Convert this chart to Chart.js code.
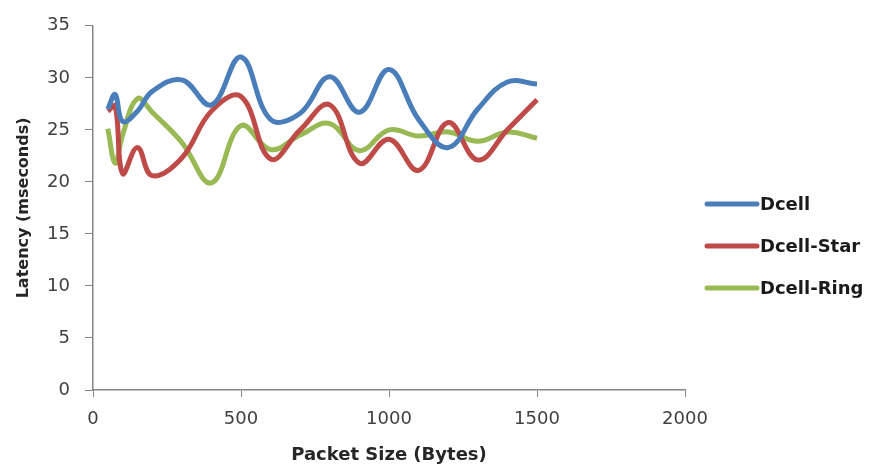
<!DOCTYPE html>
<html>
<head>
<meta charset="utf-8">
<script src="https://cdn.jsdelivr.net/npm/chart.js@4/dist/chart.umd.min.js"></script>
<style>
  html, body { margin: 0; padding: 0; background: #fff; }
  #wrap { width: 870px; height: 469px; }
</style>
</head>
<body>
<div id="wrap"><canvas id="c" width="870" height="469"></canvas></div>
<script>
// Packet sizes (bytes) at which latency was measured
const packetSizes = [50, 75, 100, 150, 200, 300, 400, 500, 600, 700, 800, 900, 1000, 1100, 1200, 1300, 1400, 1500];

// Latency in milliseconds for each topology
const dcell     = [27.0, 28.4, 25.8, 26.8, 28.7, 29.8, 27.4, 32.0, 26.0, 26.6, 30.1, 26.7, 30.8, 26.0, 23.3, 27.0, 29.6, 29.4];
const dcellStar = [26.8, 27.3, 20.8, 23.3, 20.6, 22.3, 26.8, 28.2, 22.2, 25.0, 27.4, 21.8, 24.1, 21.1, 25.7, 22.1, 25.0, 27.9];
const dcellRing = [25.1, 21.8, 24.5, 28.0, 26.7, 23.8, 19.9, 25.4, 23.1, 24.5, 25.6, 23.0, 25.0, 24.4, 24.8, 23.9, 24.8, 24.2];

const seriesNames  = ['Dcell', 'Dcell-Star', 'Dcell-Ring'];
const seriesColors = ['#4A7EBB', '#BE4B48', '#98B954'];
const seriesValues = [dcell, dcellStar, dcellRing];

const xTicks = [0, 500, 1000, 1500, 2000];
const yTicks = [0, 5, 10, 15, 20, 25, 30, 35];

const toPoints = vals => vals.map((v, i) => ({ x: packetSizes[i], y: v }));

const datasets = seriesNames.map((name, i) => ({
  label: name,
  data: toPoints(seriesValues[i]),
  borderColor: seriesColors[i],
  backgroundColor: seriesColors[i],
  borderWidth: 5,
  pointRadius: 0,
  pointHoverRadius: 0,
  showLine: true,
  tension: 0.4,
  fill: false,
  clip: false
}));

const axisGray = '#868686';
const tickFont = { family: 'DejaVu Sans', size: 18 };
const plainNumber = v => String(v);

// Legend drawn to the right of the plot, one line sample per series
const sideLegend = {
  id: 'sideLegend',
  afterDraw(chart) {
    const ctx = chart.ctx;
    const rows = [204, 246, 288];
    ctx.save();
    chart.data.datasets.forEach((ds, i) => {
      const y = rows[i];
      ctx.strokeStyle = ds.borderColor;
      ctx.lineWidth = 5;
      ctx.lineCap = 'round';
      ctx.beginPath();
      ctx.moveTo(707, y);
      ctx.lineTo(757, y);
      ctx.stroke();
      ctx.fillStyle = '#1a1a1a';
      ctx.font = 'bold 18px "DejaVu Sans"';
      ctx.textBaseline = 'middle';
      ctx.textAlign = 'left';
      ctx.fillText(ds.label, 760, y + 1);
    });
    ctx.restore();
  }
};

new Chart(document.getElementById('c'), {
  type: 'scatter',
  data: { datasets },
  options: {
    responsive: false,
    animation: false,
    events: [],
    layout: { padding: { left: 10, top: 18, right: 185, bottom: 0 } },
    plugins: {
      legend: { display: false },
      tooltip: { enabled: false }
    },
    scales: {
      x: {
        type: 'linear',
        min: 0,
        max: 2000,
        afterBuildTicks: s => { s.ticks = xTicks.map(v => ({ value: v })); },
        afterFit: s => { s.height = 79; },
        ticks: { color: '#404040', font: tickFont, padding: 12, maxRotation: 0, callback: plainNumber },
        grid: { display: true, drawOnChartArea: false, drawTicks: true, tickLength: 7, color: axisGray, lineWidth: 1 },
        border: { display: true, color: axisGray, width: 1.5 },
        title: { display: true, text: 'Packet Size (Bytes)', color: '#262626', font: { family: 'DejaVu Sans', size: 18, weight: 'bold' }, padding: { top: 4, bottom: 3 } }
      },
      y: {
        type: 'linear',
        min: 0,
        max: 35,
        afterBuildTicks: s => { s.ticks = yTicks.map(v => ({ value: v })); },
        afterFit: s => { s.width = 83; },
        ticks: { color: '#404040', font: tickFont, padding: 15, callback: plainNumber },
        grid: { display: true, drawOnChartArea: false, drawTicks: true, tickLength: 8, color: axisGray, lineWidth: 1 },
        border: { display: true, color: axisGray, width: 1.5 },
        title: { display: true, text: 'Latency (mseconds)', color: '#262626', font: { family: 'DejaVu Sans', size: 16, weight: 'bold' }, padding: { top: 4, bottom: 4 } }
      }
    }
  },
  plugins: [sideLegend]
});
</script>
</body>
</html>
